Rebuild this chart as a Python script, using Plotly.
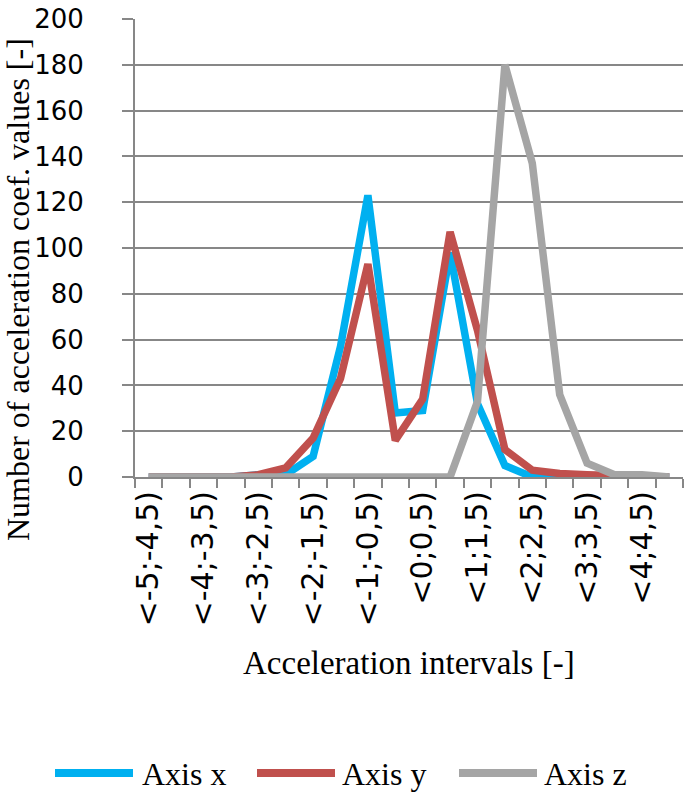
import plotly.graph_objects as go

# acceleration intervals (categories on the x axis)
INTERVALS = [
    "<-5;-4,5)", "<-4,5;-4)", "<-4;-3,5)", "<-3,5;-3)", "<-3;-2,5)",
    "<-2,5;-2)", "<-2;-1,5)", "<-1,5;-1)", "<-1;-0,5)", "<-0,5;0)",
    "<0;0,5)", "<0,5;1)", "<1;1,5)", "<1,5;2)", "<2;2,5)",
    "<2,5;3)", "<3;3,5)", "<3,5;4)", "<4;4,5)", "<4,5;5)",
]
AXIS_X = [0, 0, 0, 0, 1, 1, 9, 57, 123, 28, 29, 98, 32, 5, 0, 0, 0, 0, 0, 0]
AXIS_Y = [0, 0, 0, 0, 1, 4, 17, 43, 93, 16, 34, 107, 64, 12, 3, 1.5, 1, 0.5, 0, 0]
AXIS_Z = [0, 0, 0, 0, 0, 0, 0, 0, 0, 0, 0, 0, 33, 180, 137, 36, 6, 1, 1, 0]
SERIES_NAMES = ["Axis x", "Axis y", "Axis z"]

BLUE = "#00B0F0"
RED = "#C0504D"
GREY = "#A5A5A5"
GRID = "#878787"
SERIF = "Liberation Serif, Times New Roman, serif"
SANS = "DejaVu Sans, sans-serif"

W, H = 685, 794
LEFT, RIGHT, TOP, BOTTOM = 135, 683, 19, 477


def px_x(px: float) -> float:
    return (px - LEFT) / (RIGHT - LEFT)


def px_y(py: float) -> float:
    return (BOTTOM - py) / (BOTTOM - TOP)


positions = list(range(len(INTERVALS)))
fig = go.Figure()
for name, values, color in zip(SERIES_NAMES, [AXIS_X, AXIS_Y, AXIS_Z], [BLUE, RED, GREY]):
    fig.add_trace(
        go.Scatter(
            x=positions,
            y=values,
            mode="lines",
            name=name,
            line=dict(color=color, width=7.5),
            cliponaxis=False,
            showlegend=False,
        )
    )

fig.update_layout(
    width=W,
    height=H,
    margin=dict(l=LEFT, r=W - RIGHT, t=TOP, b=H - BOTTOM),
    paper_bgcolor="white",
    plot_bgcolor="white",
    showlegend=False,
)
fig.update_xaxes(
    range=[-0.5, len(INTERVALS) - 0.5],
    tickmode="array",
    tickvals=positions[::2],
    ticktext=INTERVALS[::2],
    tickangle=-90,
    tickfont=dict(family=SANS, size=30, color="black"),
    ticks="",
    showgrid=False,
    zeroline=False,
    showline=True,
    linecolor=GRID,
    linewidth=2,
    minor=dict(
        tickmode="array",
        tickvals=[p - 0.5 for p in positions] + [positions[-1] + 0.5],
        ticks="outside",
        ticklen=9,
        tickwidth=2,
        tickcolor=GRID,
        showgrid=False,
    ),
)
fig.update_yaxes(
    range=[0, 200],
    dtick=20,
    tickfont=dict(family=SANS, size=26, color="black"),
    showgrid=True,
    gridcolor=GRID,
    gridwidth=2,
    zeroline=False,
    showline=True,
    linecolor=GRID,
    linewidth=2,
    ticks="outside",
    ticklen=11,
    tickwidth=2,
    tickcolor=GRID,
    ticklabelstandoff=33,
)

# axis titles
fig.add_annotation(
    text="Acceleration intervals [-]",
    xref="paper", yref="paper",
    x=px_x((LEFT + RIGHT) / 2), y=px_y(663),
    xanchor="center", yanchor="middle",
    showarrow=False,
    font=dict(family=SERIF, size=33, color="black"),
)
fig.add_annotation(
    text="Number of acceleration coef. values [-]",
    xref="paper", yref="paper",
    x=px_x(18), y=px_y(290),
    xanchor="center", yanchor="middle",
    textangle=-90,
    showarrow=False,
    font=dict(family=SERIF, size=32, color="black"),
)

# legend drawn below the chart
legend_lines = [(55, 133), (257, 335), (459, 537)]
legend_text_x = [140, 340, 542]
legend_y = 773
for name, color, (x0, x1), tx in zip(SERIES_NAMES, [BLUE, RED, GREY], legend_lines, legend_text_x):
    fig.add_shape(
        type="line",
        xref="paper", yref="paper",
        x0=px_x(x0), x1=px_x(x1), y0=px_y(legend_y), y1=px_y(legend_y),
        line=dict(color=color, width=8),
    )
    fig.add_annotation(
        text=name,
        xref="paper", yref="paper",
        x=px_x(tx), y=px_y(legend_y + 1),
        xanchor="left", yanchor="middle",
        showarrow=False,
        font=dict(family=SERIF, size=32, color="black"),
    )

fig.write_html(
    "out.html",
    config={"displayModeBar": False},
    post_script="document.body.style.margin='0';",
)
